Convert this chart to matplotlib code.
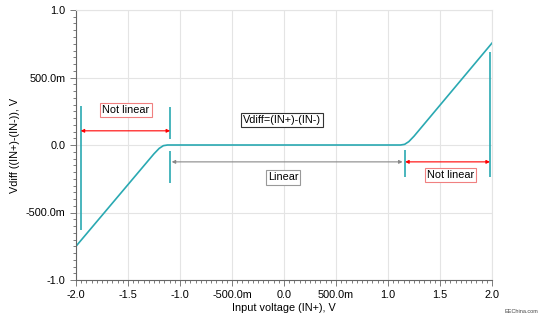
import matplotlib.pyplot as plt
import numpy as np
from matplotlib.ticker import MultipleLocator, FuncFormatter

# transfer curve (IN+ vs Vdiff)
vin = [-2.0, -1.25, -1.20, -1.16, -1.12, 1.12, 1.16, 1.20, 1.25, 2.0]
vdiff = [-0.75, -0.065, -0.025, -0.005, 0.0, 0.0, 0.005, 0.025, 0.065, 0.755]

# vertical boundary markers: x, ybottom, ytop
mark_x = [-1.955, -1.095, -1.095, 1.165, 1.98]
mark_lo = [-0.63, 0.045, -0.28, -0.24, -0.24]
mark_hi = [0.29, 0.28, -0.045, -0.04, 0.69]

teal = '#2aa9b2'
fs = 7.8

def fmt(v, pos):
    if abs(v) < 1e-9:
        return '0.0'
    if abs(abs(v) - 0.5) < 1e-9:
        return '%.1fm' % (v * 1000)
    return '%.1f' % v

plt.rcParams['font.family'] = ['Liberation Sans', 'DejaVu Sans']
fig = plt.figure(figsize=(5.52, 3.26), dpi=100)
ax = fig.add_axes([76 / 552, 46 / 326, 416 / 552, 270 / 326])

ax.plot(vin, vdiff, color=teal, lw=1.2)
ax.vlines(mark_x, mark_lo, mark_hi, color=teal, lw=1.2)

ax.annotate('', xy=(-1.955, 0.105), xytext=(-1.095, 0.105),
            arrowprops=dict(arrowstyle='<|-|>', color='red', lw=0.8,
                            mutation_scale=5, shrinkA=0, shrinkB=0))
ax.annotate('', xy=(1.165, -0.125), xytext=(1.98, -0.125),
            arrowprops=dict(arrowstyle='<|-|>', color='red', lw=0.8,
                            mutation_scale=5, shrinkA=0, shrinkB=0))
ax.annotate('', xy=(-1.08, -0.125), xytext=(1.14, -0.125),
            arrowprops=dict(arrowstyle='<|-|>', color='#888888', lw=0.8,
                            mutation_scale=5, shrinkA=0, shrinkB=0))

ax.text(-1.52, 0.26, 'Not linear', ha='center', va='center', fontsize=fs,
        bbox=dict(boxstyle='square,pad=0.2', fc='white', ec='#f08080', lw=0.8))
ax.text(1.6, -0.22, 'Not linear', ha='center', va='center', fontsize=fs,
        bbox=dict(boxstyle='square,pad=0.2', fc='white', ec='#f08080', lw=0.8))
ax.text(-0.02, 0.185, 'Vdiff=(IN+)-(IN-)', ha='center', va='center', fontsize=fs,
        bbox=dict(boxstyle='square,pad=0.2', fc='white', ec='#333333', lw=0.8))
ax.text(-0.01, -0.24, 'Linear', ha='center', va='center', fontsize=fs,
        bbox=dict(boxstyle='square,pad=0.2', fc='white', ec='#999999', lw=0.8))

ax.set_xlim(-2, 2)
ax.set_ylim(-1, 1)
ax.xaxis.set_major_locator(MultipleLocator(0.5))
ax.xaxis.set_minor_locator(MultipleLocator(0.05))
ax.yaxis.set_major_locator(MultipleLocator(0.5))
ax.yaxis.set_minor_locator(MultipleLocator(0.05))
ax.xaxis.set_major_formatter(FuncFormatter(fmt))
ax.yaxis.set_major_formatter(FuncFormatter(fmt))
ax.tick_params(which='both', labelsize=fs, color='#666666', width=0.6)
ax.tick_params(which='major', length=4)
ax.tick_params(which='minor', length=2.5)
ax.grid(True, color='#e4e4e4', lw=0.8)
ax.set_axisbelow(True)
for s in ['top', 'right']:
    ax.spines[s].set_color('#e4e4e4')
for s in ['left', 'bottom']:
    ax.spines[s].set_color('#666666')
    ax.spines[s].set_linewidth(0.8)

ax.set_xlabel('Input voltage (IN+), V', fontsize=fs, labelpad=2)
ax.set_ylabel('Vdiff ((IN+)-(IN-)), V', fontsize=fs, labelpad=4)
fig.text(0.945, 0.04, 'EEChina.com', fontsize=4, ha='center', color='#444444')

fig.savefig('out.png', dpi=100)
